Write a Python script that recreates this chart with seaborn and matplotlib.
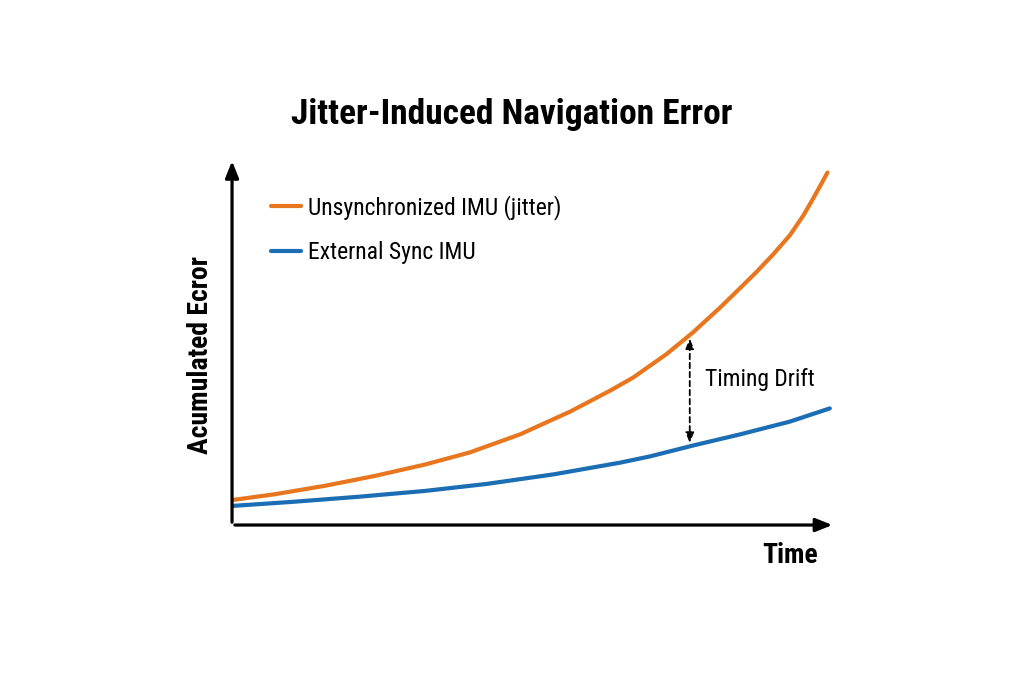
import seaborn as sns
import matplotlib.pyplot as plt
import pandas as pd
import numpy as np

# values (arbitrary units)
orange_x = [0, 0.72, 1.56, 2.40, 3.24, 3.99, 4.83, 5.67, 6.34, 6.73, 7.29, 7.74, 8.19, 8.55, 8.80, 9.08, 9.36, 9.59, 9.75, 9.89, 9.99]
orange_y = [0.68, 0.84, 1.07, 1.34, 1.65, 1.98, 2.47, 3.09, 3.66, 4.02, 4.66, 5.26, 5.93, 6.50, 6.90, 7.38, 7.90, 8.45, 8.90, 9.31, 9.61]
blue_x = [0, 1.00, 2.12, 3.24, 4.27, 5.39, 6.51, 7.01, 7.74, 8.52, 9.36, 10.03]
blue_y = [0.52, 0.63, 0.77, 0.93, 1.12, 1.38, 1.70, 1.87, 2.17, 2.47, 2.82, 3.18]
labels = ['Unsynchronized IMU (jitter)', 'External Sync IMU']
drift_x = 7.68

ORANGE = '#E8761E'
BLUE = '#1B6DB4'

sns.set_style('white')
plt.rcParams['font.family'] = ['Roboto Condensed', 'Noto Sans', 'DejaVu Sans']
plt.rcParams['font.stretch'] = 'condensed'
plt.rcParams['text.color'] = 'black'

df_o = pd.DataFrame({'t': orange_x, 'err': orange_y})
df_b = pd.DataFrame({'t': blue_x, 'err': blue_y})

fig = plt.figure(figsize=(10.24, 6.83), dpi=100)
ax = fig.add_axes([0.2266, 0.2313, 0.589, 0.537])

sns.lineplot(x='t', y='err', data=df_o, ax=ax, color=ORANGE, lw=3, label=labels[0],
             solid_joinstyle='round')
sns.lineplot(x='t', y='err', data=df_b, ax=ax, color=BLUE, lw=3, label=labels[1],
             solid_joinstyle='round')

ax.set_xlim(0, 10.12)
ax.set_ylim(0, 10)
ax.set_xticks([])
ax.set_yticks([])
ax.set_xlabel('')
ax.set_ylabel('')
for s in ax.spines.values():
    s.set_visible(False)

# axis arrows
ax.annotate('', xy=(1.0, 0), xytext=(0, 0), xycoords='axes fraction',
            arrowprops=dict(arrowstyle='-|>,head_length=1.0,head_width=0.4', lw=2.3, color='black'),
            annotation_clip=False)
ax.annotate('', xy=(0, 1.0), xytext=(0, 0), xycoords='axes fraction',
            arrowprops=dict(arrowstyle='-|>,head_length=1.0,head_width=0.4', lw=2.3, color='black'),
            annotation_clip=False)

# timing drift arrow
y_top = np.interp(drift_x, orange_x, orange_y)
y_bot = np.interp(drift_x, blue_x, blue_y)
ax.annotate('', xy=(drift_x, y_top - 0.02), xytext=(drift_x, y_bot + 0.02),
            arrowprops=dict(arrowstyle='<|-|>,head_length=0.6,head_width=0.25', lw=1.3,
                            ls=(0, (3, 2)), color='black'))
ax.text(drift_x + 0.26, (y_top + y_bot) / 2 + 0.3, 'Timing Drift', fontsize=17,
        va='center', ha='left')

ax.legend(loc='upper left', bbox_to_anchor=(0.03, 0.958), frameon=False, fontsize=17,
          handlelength=1.25, handletextpad=0.3, labelspacing=0.9)

fig.text(0.5, 0.832, 'Jitter-Induced Navigation Error', ha='center', va='center',
         fontsize=25.5, fontweight='bold')
fig.text(0.196, 0.48, 'Acumulated Ecror', rotation=90, ha='center', va='center',
         fontsize=20, fontweight='bold')
fig.text(0.772, 0.187, 'Time', ha='center', va='center', fontsize=20, fontweight='bold')

fig.savefig('out.png', dpi=100)
